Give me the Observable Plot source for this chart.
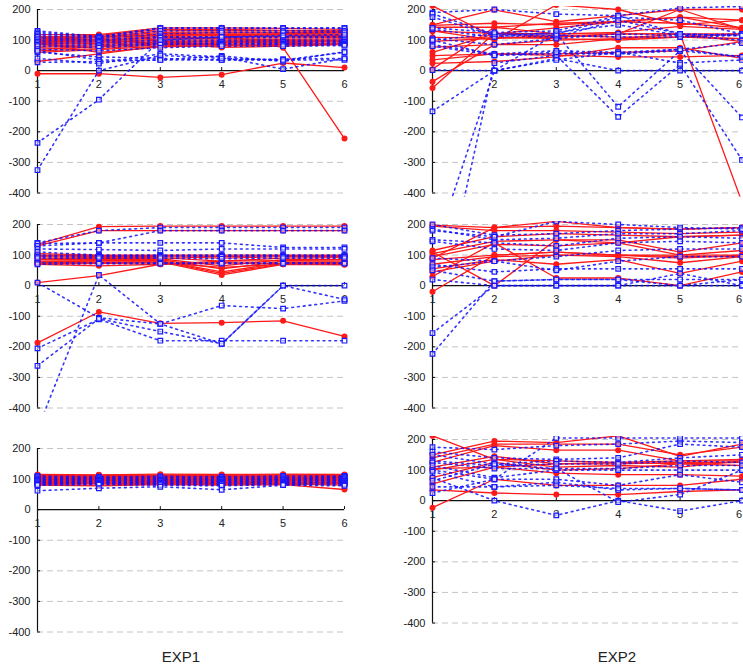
<!DOCTYPE html>
<html><head><meta charset="utf-8">
<script src="https://cdn.jsdelivr.net/npm/d3@7"></script>
<script src="https://cdn.jsdelivr.net/npm/@observablehq/plot@0.6"></script>
<style>
html,body{margin:0;padding:0;background:#fff;}
#wrap{position:relative;width:743px;height:671px;overflow:hidden;font-family:"Liberation Sans",Arial,sans-serif;}
.panel{position:absolute;}
.panel svg{overflow:visible;}
.lab{position:absolute;font-size:15px;color:#222;transform:translateX(-50%);white-space:nowrap;}
</style></head><body><div id="wrap"></div>
<script>
const xTicks = [1, 2, 3, 4, 5, 6];
const yTicks = [200, 100, 0, -100, -200, -300, -400];
const columnLabels = ["EXP1", "EXP2"];

// EXP1, row 1
const exp1Row1Red = [
  [110, 115, 135, 135, 132, 130],
  [108, 110, 130, 132, 130, 128],
  [105, 108, 125, 127, 125, 124],
  [100, 104, 121, 124, 122, 120],
  [98, 100, 117, 119, 118, 117],
  [95, 97, 112, 115, 114, 115],
  [92, 95, 108, 110, 111, 112],
  [88, 92, 104, 106, 107, 108],
  [85, 89, 100, 101, 102, 104],
  [80, 85, 96, 97, 99, 100],
  [76, 81, 92, 94, 95, 97],
  [70, 78, 88, 90, 92, 95],
  [65, 72, 85, 86, 88, 90],
  [60, 69, 80, 81, 84, 87],
  [112, 100, 90, 76, 80, 85],
  [90, 60, 78, 82, 85, 90],
  [30, 55, 80, 92, 95, 100],
  [-10, -10, -22, -13, 25, 10],
  [100, 112, 115, 118, 75, -222],
  [118, 118, 140, 140, 138, 135]
];
const exp1Row1Blue = [
  [130, 112, 140, 140, 140, 140],
  [125, 110, 138, 138, 138, 138],
  [120, 108, 130, 131, 130, 130],
  [115, 105, 120, 125, 125, 125],
  [110, 100, 112, 110, 112, 112],
  [105, 98, 108, 108, 108, 108],
  [100, 95, 100, 100, 100, 100],
  [95, 90, 95, 95, 95, 95],
  [90, 85, 90, 90, 90, 92],
  [85, 80, 88, 88, 88, 88],
  [80, 75, 85, 85, 85, 85],
  [70, 65, 75, 80, 80, 82],
  [60, 45, 40, 35, 35, 35],
  [65, 35, 35, 35, 38, 40],
  [27, 30, 35, 48, 30, 62],
  [40, 23, 55, 45, 5, 40],
  [-236, -95, 100, 110, 115, 118],
  [-325, 0, 50, 40, 35, 60]
];

// EXP1, row 2
const exp1Row2Red = [
  [135, 193, 195, 195, 195, 195],
  [130, 180, 180, 180, 180, 180],
  [105, 100, 100, 100, 100, 100],
  [100, 98, 98, 95, 98, 98],
  [98, 95, 95, 90, 95, 95],
  [95, 92, 92, 80, 90, 92],
  [90, 88, 88, 65, 85, 85],
  [85, 85, 85, 55, 80, 80],
  [80, 82, 82, 45, 75, 76],
  [78, 80, 80, 40, 72, 72],
  [75, 75, 78, 35, 70, 70],
  [72, 72, 75, 60, 70, 68],
  [70, 65, 70, 75, 72, 73],
  [10, 33, 70, 80, 82, 85],
  [-187, -86, -123, -121, -115, -166]
];
const exp1Row2Blue = [
  [140, 180, 190, 190, 190, 190],
  [138, 140, 180, 180, 180, 180],
  [130, 140, 140, 140, 125, 125],
  [120, 118, 115, 120, 120, 120],
  [110, 100, 100, 100, 100, 100],
  [100, 98, 98, 98, 98, 98],
  [95, 95, 95, 95, 95, 95],
  [90, 90, 90, 88, 90, 90],
  [75, 75, 75, 75, 75, 75],
  [70, 72, 72, 72, 72, 72],
  [10, -105, -125, -65, -75, -50],
  [-205, -110, -180, -180, -180, -180],
  [-262, -108, -150, -190, 0, -45],
  [-470, 35, -125, -190, 0, 0]
];

// EXP1, row 3
const exp1Row3Red = [
  [115, 114, 116, 115, 116, 115],
  [112, 113, 113, 112, 114, 113],
  [110, 111, 112, 110, 111, 111],
  [108, 110, 109, 108, 110, 110],
  [106, 107, 108, 106, 107, 108],
  [104, 106, 105, 104, 106, 105],
  [102, 103, 104, 101, 103, 104],
  [100, 102, 101, 100, 102, 101],
  [98, 99, 100, 97, 99, 100],
  [96, 98, 97, 96, 98, 97],
  [94, 95, 96, 93, 95, 96],
  [92, 94, 93, 91, 94, 93],
  [90, 91, 92, 89, 91, 91],
  [88, 90, 89, 88, 90, 88],
  [86, 87, 88, 85, 87, 86],
  [84, 85, 86, 83, 86, 84],
  [82, 80, 84, 82, 84, 80],
  [80, 78, 82, 80, 82, 66]
];
const exp1Row3Blue = [
  [110, 108, 109, 108, 110, 110],
  [106, 105, 106, 105, 106, 108],
  [103, 102, 103, 101, 103, 105],
  [100, 100, 100, 98, 100, 102],
  [98, 97, 98, 96, 98, 99],
  [95, 95, 95, 93, 96, 96],
  [92, 92, 93, 91, 93, 94],
  [90, 90, 90, 88, 91, 92],
  [87, 88, 88, 86, 88, 90],
  [85, 86, 85, 84, 86, 88],
  [82, 84, 83, 80, 84, 85],
  [80, 82, 80, 78, 82, 82],
  [62, 70, 75, 65, 80, 78]
];

// EXP2, row 1
const exp2Row1Red = [
  [212, 110, 105, 100, 110, 105],
  [150, 199, 160, 180, 200, 200],
  [148, 155, 150, 160, 175, 165],
  [142, 142, 155, 160, 155, 140],
  [129, 122, 120, 125, 145, 135],
  [109, 106, 110, 120, 120, 120],
  [96, 106, 115, 110, 110, 105],
  [77, 85, 100, 105, 120, 95],
  [60, 120, 140, 160, 175, 140],
  [49, 55, 55, 60, 65, 95],
  [35, 55, 50, 45, 45, 50],
  [24, 30, 45, 75, 75, 40],
  [-36, 85, 85, 105, 110, 120],
  [-57, 122, 110, 120, 120, -430],
  [5, 142, 120, 120, 200, 135],
  [130, 100, 215, 200, 150, 165]
];
const exp2Row1Blue = [
  [190, 200, 185, 180, 205, 210],
  [186, 120, 120, 175, 165, 120],
  [175, 115, 110, 165, 120, 115],
  [135, 110, 125, 150, 115, 100],
  [105, 85, 105, 120, 115, 120],
  [100, 120, 115, 110, 110, 115],
  [85, 55, 65, 60, 70, 90],
  [80, 50, 55, 55, 65, 45],
  [2, 0, 40, 0, 0, 0],
  [-133, 0, 35, 60, 25, 35],
  [-606, 0, 120, -118, 65, -153],
  [-880, 25, 50, -151, 20, -292],
  [100, 50, 60, 55, 70, 45],
  [140, 125, 130, 180, 120, 115]
];

// EXP2, row 2
const exp2Row2Red = [
  [198, 190, 195, 190, 185, 190],
  [195, 180, 180, 175, 170, 175],
  [115, 160, 170, 165, 160, 165],
  [105, 145, 150, 150, 110, 140],
  [95, 135, 130, 140, 100, 115],
  [85, 100, 110, 100, 90, 100],
  [70, 95, 100, 95, 75, 95],
  [55, 85, 70, 85, 40, 80],
  [45, 80, 100, 100, 100, 100],
  [30, 140, 25, 25, 0, 45],
  [-20, 100, 110, 100, 95, 95],
  [110, 0, 150, 140, 160, 165],
  [90, 190, 210, 190, 185, 190]
];
const exp2Row2Blue = [
  [200, 165, 170, 180, 185, 190],
  [185, 150, 155, 170, 170, 180],
  [150, 140, 130, 155, 160, 155],
  [145, 120, 115, 140, 145, 140],
  [90, 80, 95, 115, 120, 120],
  [70, 45, 55, 55, 55, 55],
  [60, 80, 50, 80, 95, 95],
  [50, 15, 20, 20, 20, 20],
  [20, 0, 0, 0, 0, 0],
  [-155, 0, 0, 0, 40, 0],
  [-223, 15, 20, 20, 0, 20],
  [180, 160, 210, 200, 190, 185]
];

// EXP2, row 3
const exp2Row3Red = [
  [212, 135, 130, 125, 130, 130],
  [150, 195, 190, 212, 145, 185],
  [140, 185, 185, 185, 150, 175],
  [125, 180, 165, 165, 130, 135],
  [110, 145, 120, 125, 120, 125],
  [100, 135, 110, 115, 110, 130],
  [75, 125, 100, 105, 120, 115],
  [55, 110, 90, 85, 85, 80],
  [35, 25, 20, 20, 30, 35],
  [-23, 70, 50, 50, 50, 70],
  [105, 110, 120, 120, 125, 125]
];
const exp2Row3Blue = [
  [175, 167, 180, 185, 195, 190],
  [160, 140, 135, 140, 185, 175],
  [150, 120, 130, 125, 140, 150],
  [130, 115, 120, 120, 130, 125],
  [125, 105, 105, 105, 115, 115],
  [115, 75, 100, 100, 100, 100],
  [100, 70, 70, 50, 85, 60],
  [95, 45, 60, 35, 40, 35],
  [75, 0, -48, 0, -34, 0],
  [65, 120, 105, -5, 20, 100],
  [45, 45, 50, 40, 40, 35],
  [25, 70, 205, 205, 205, 205]
];

const panels = [
  {red: exp1Row1Red, blue: exp1Row1Blue, col: 0, y200: 9},
  {red: exp1Row2Red, blue: exp1Row2Blue, col: 0, y200: 224.3},
  {red: exp1Row3Red, blue: exp1Row3Blue, col: 0, y200: 447.7},
  {red: exp2Row1Red, blue: exp2Row1Blue, col: 1, y200: 9},
  {red: exp2Row2Red, blue: exp2Row2Blue, col: 1, y200: 224.3},
  {red: exp2Row3Red, blue: exp2Row3Blue, col: 1, y200: 439.3}
];

const wrap = document.getElementById("wrap");
const flat = (arr) => arr.flatMap((s, i) => s.map((v, j) => ({s: i, x: xTicks[j], y: v})));

for (const p of panels) {
  const left = p.col === 0 ? 0 : 396;
  const width = p.col === 0 ? 360 : 347;
  const xr = p.col === 0 ? [37, 344] : [36, 345.5];
  const H = 205;
  const red = flat(p.red), blue = flat(p.blue);
  const lastShift = p.col === 1 ? -3 : 0;
  const chart = Plot.plot({
    width, height: H,
    marginLeft: 28, marginRight: p.col === 0 ? 8 : 0, marginTop: 7, marginBottom: 7.5,
    x: {domain: [1, 6], range: xr, axis: null},
    y: {domain: [-400, 200], range: [193.5, 10], axis: null},
    style: {fontFamily: '"Liberation Sans", Arial, sans-serif', fontSize: "11px", background: "transparent", overflow: "visible"},
    marks: [
      Plot.ruleY(yTicks.filter(d => d !== 0), {x1: 1, x2: 6, stroke: "#c4c4c4", strokeDasharray: "6,4"}),
      Plot.ruleY([0], {x1: 1, x2: 6, stroke: "#111", strokeWidth: 1.2}),
      Plot.ruleX([1], {y1: -400, y2: 200, stroke: "#111", strokeWidth: 1.2}),
      Plot.ruleY(yTicks, {x1: 1, x2: 1.05, stroke: "#111"}),
      Plot.ruleX(xTicks.slice(1), {y1: 0, y2: 10, stroke: "#111"}),
      Plot.text(xTicks.slice(0, 5), {x: d => d, y: 0, dy: 14, text: d => String(d), fill: "#222"}),
      Plot.text(xTicks.slice(5), {x: d => d, y: 0, dy: 14, dx: lastShift, text: d => String(d), fill: "#222"}),
      Plot.text(yTicks, {x: 1, y: d => d, text: d => String(d), textAnchor: "end", dx: -7, fill: "#222"}),
      Plot.line(red, {x: "x", y: "y", z: "s", stroke: "#ff1a1a", strokeWidth: 1.3, clip: true}),
      Plot.dot(red, {x: "x", y: "y", fill: "#ff1a1a", r: 3, clip: true}),
      Plot.line(blue, {x: "x", y: "y", z: "s", stroke: "#1010ff", strokeWidth: 1.6, strokeOpacity: 0.85, strokeDasharray: "1.8,4", clip: true}),
      Plot.dot(blue, {x: "x", y: "y", symbol: "square", stroke: "#1a1aff", strokeWidth: 1.2, fill: "white", fillOpacity: 0.5, r: 2.6, clip: true})
    ]
  });
  const div = document.createElement("div");
  div.className = "panel";
  div.style.left = left + "px";
  div.style.top = (p.y200 - 10) + "px";
  div.appendChild(chart);
  wrap.appendChild(div);
}

columnLabels.forEach((t, i) => {
  const d = document.createElement("div");
  d.className = "lab";
  d.textContent = t;
  d.style.left = (i === 0 ? 181 : 617) + "px";
  d.style.top = "648px";
  wrap.appendChild(d);
});
</script></body></html>
